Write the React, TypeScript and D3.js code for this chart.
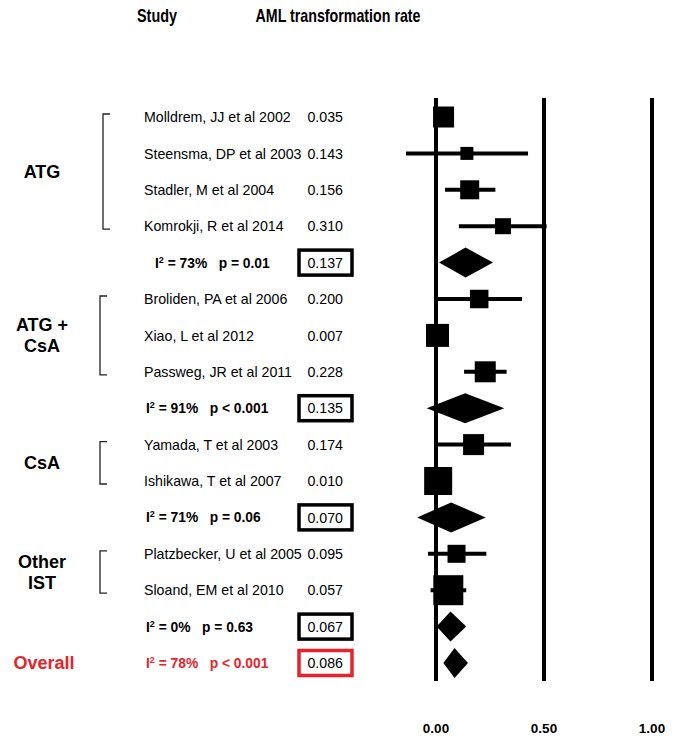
import React from "react";
import * as d3 from "d3";

// ---------- data ----------
const groupLabels: string[][] = [["ATG"], ["ATG +", "CsA"], ["CsA"], ["Other", "IST"]];

const studyNames = [
  "Molldrem, JJ et al 2002",
  "Steensma, DP et al 2003",
  "Stadler, M et al 2004",
  "Komrokji, R et al 2014",
  "Broliden, PA et al 2006",
  "Xiao, L et al 2012",
  "Passweg, JR et al 2011",
  "Yamada, T et al 2003",
  "Ishikawa, T et al 2007",
  "Platzbecker, U et al 2005",
  "Sloand, EM et al 2010",
];
const studyGroup = [0, 0, 0, 0, 1, 1, 1, 2, 2, 3, 3];
const studyEstimates = [0.035, 0.143, 0.156, 0.31, 0.2, 0.007, 0.228, 0.174, 0.01, 0.095, 0.057];
const studyLower = [0.005, -0.139, 0.042, 0.106, 0.0, 0.0, 0.13, 0.0, 0.0, -0.037, -0.025];
const studyUpper = [0.07, 0.426, 0.275, 0.512, 0.398, 0.02, 0.327, 0.347, 0.03, 0.233, 0.14];
const studyWeights = [21, 13, 19, 16, 18.5, 23, 21, 21, 28, 18, 30];

const summaryEstimates = [0.137, 0.135, 0.07, 0.067];
const summaryLower = [0.014, -0.043, -0.087, 0.003];
const summaryUpper = [0.264, 0.316, 0.23, 0.14];
const summaryI2 = ["73%", "91%", "71%", "0%"];
const summaryP = ["p = 0.01", "p < 0.001", "p = 0.06", "p = 0.63"];

const overallEstimate = [0.086];
const overallLower = [0.034];
const overallUpper = [0.148];
const overallI2 = ["78%"];
const overallP = ["p < 0.001"];

const xTicks = [0, 0.5, 1.0];

// ---------- layout ----------
type Row =
  | { kind: "study"; i: number }
  | { kind: "summary"; g: number }
  | { kind: "overall" };

const rows: Row[] = [];
groupLabels.forEach((_, g) => {
  studyNames.forEach((__, i) => {
    if (studyGroup[i] === g) rows.push({ kind: "study", i });
  });
  rows.push({ kind: "summary", g });
});
rows.push({ kind: "overall" });

const W = 684;
const H = 744;
const RED = "#e8222a";
const FONT = "Liberation Sans, Arial, Helvetica, sans-serif";

const x = d3.scaleLinear().domain([0, 1]).range([436, 652]);
const y = d3.scalePoint<number>().domain(d3.range(rows.length)).range([117, 663]);
const side = d3.scaleLinear().domain([0, 30]).range([0, 30]);
const fmt3 = d3.format(".3f");
const fmt2 = d3.format(".2f");

const nameX = 144;
const valueX = 343;
const diamondH = 30;
const textSize = 14.2;

function diamond(est: number, lo: number, hi: number, cy: number) {
  const p = d3.path();
  p.moveTo(x(lo), cy);
  p.lineTo(x(est), cy - diamondH / 2);
  p.lineTo(x(hi), cy);
  p.lineTo(x(est), cy + diamondH / 2);
  p.closePath();
  return p.toString();
}

export default function App() {
  const rowY = (r: number) => y(r) as number;

  const groupRows = groupLabels.map((_, g) =>
    rows
      .map((r, idx) => ({ r, idx }))
      .filter((o) => o.r.kind === "study" && studyGroup[(o.r as any).i] === g)
      .map((o) => o.idx)
  );

  return (
    <div style={{ position: "absolute", left: 0, top: 0 }}>
      <svg width={W} height={H} style={{ display: "block", background: "#fff" }} fontFamily={FONT}>
        {/* headers */}
        <text x={157} y={22} textAnchor="middle" fontSize={18.5} fontWeight="bold" textLength={40} lengthAdjust="spacingAndGlyphs">
          Study
        </text>
        <text x={338} y={22} textAnchor="middle" fontSize={18.5} fontWeight="bold" textLength={165} lengthAdjust="spacingAndGlyphs">
          AML transformation rate
        </text>

        {/* reference lines */}
        {xTicks.map((t) => (
          <line key={"v" + t} x1={x(t)} x2={x(t)} y1={98} y2={681} stroke="#000" strokeWidth={4} />
        ))}
        {xTicks.map((t) => (
          <text key={"t" + t} x={x(t)} y={733} textAnchor="middle" fontSize={13.5} fontWeight="bold">
            {fmt2(t)}
          </text>
        ))}

        {/* group labels & brackets */}
        {groupLabels.map((lines, g) => {
          const idxs = groupRows[g];
          const y0 = rowY(idxs[0]) - 3;
          const y1 = rowY(idxs[idxs.length - 1]) + 3;
          const cy = (y0 + y1) / 2;
          const bx = g === 0 ? 103 : 100;
          return (
            <g key={"grp" + g}>
              <path d={`M${bx + 7},${y0} H${bx} V${y1} H${bx + 7}`} fill="none" stroke="#222" strokeWidth={1.3} />
              {lines.map((l, k) => (
                <text
                  key={k}
                  x={42}
                  y={cy + (k - (lines.length - 1) / 2) * 21}
                  dy="0.36em"
                  textAnchor="middle"
                  fontSize={18}
                  fontWeight="bold"
                >
                  {l}
                </text>
              ))}
            </g>
          );
        })}
        <text x={44} y={rowY(rows.length - 1)} dy="0.36em" textAnchor="middle" fontSize={18} fontWeight="bold" fill={RED}>
          Overall
        </text>

        {/* rows */}
        {rows.map((r, idx) => {
          const cy = rowY(idx);
          if (r.kind === "study") {
            const i = r.i;
            const s = side(studyWeights[i]);
            return (
              <g key={"r" + idx}>
                <text x={nameX} y={cy} dy="0.36em" fontSize={textSize}>
                  {studyNames[i]}
                </text>
                <text x={valueX} y={cy} dy="0.36em" fontSize={textSize} textAnchor="end">
                  {fmt3(studyEstimates[i])}
                </text>
                <line x1={x(studyLower[i])} x2={x(studyUpper[i])} y1={cy} y2={cy} stroke="#000" strokeWidth={4} />
                <rect x={x(studyEstimates[i]) - s / 2} y={cy - s / 2} width={s} height={s} fill="#000" />
              </g>
            );
          }
          const isOverall = r.kind === "overall";
          const est = isOverall ? overallEstimate[0] : summaryEstimates[r.g];
          const lo = isOverall ? overallLower[0] : summaryLower[r.g];
          const hi = isOverall ? overallUpper[0] : summaryUpper[r.g];
          const i2 = isOverall ? overallI2[0] : summaryI2[r.g];
          const pt = isOverall ? overallP[0] : summaryP[r.g];
          const color = isOverall ? RED : "#000";
          const tx = !isOverall && r.g === 0 ? 155 : 146;
          return (
            <g key={"r" + idx}>
              <text x={tx} y={cy} dy="0.36em" fontSize={13.8} fontWeight="bold" fill={color} style={{ whiteSpace: "pre" }}>
                I<tspan fontSize={9} dy={-5}>2</tspan>
                <tspan dy={5}>{` = ${i2}   ${pt}`}</tspan>
              </text>
              <rect x={299} y={cy - 12.5} width={53} height={25} fill="none" stroke={color} strokeWidth={3.5} />
              <text x={valueX} y={cy} dy="0.36em" fontSize={textSize} textAnchor="end">
                {fmt3(est)}
              </text>
              <path d={diamond(est, lo, hi, cy)} fill="#000" />
            </g>
          );
        })}
      </svg>
    </div>
  );
}
